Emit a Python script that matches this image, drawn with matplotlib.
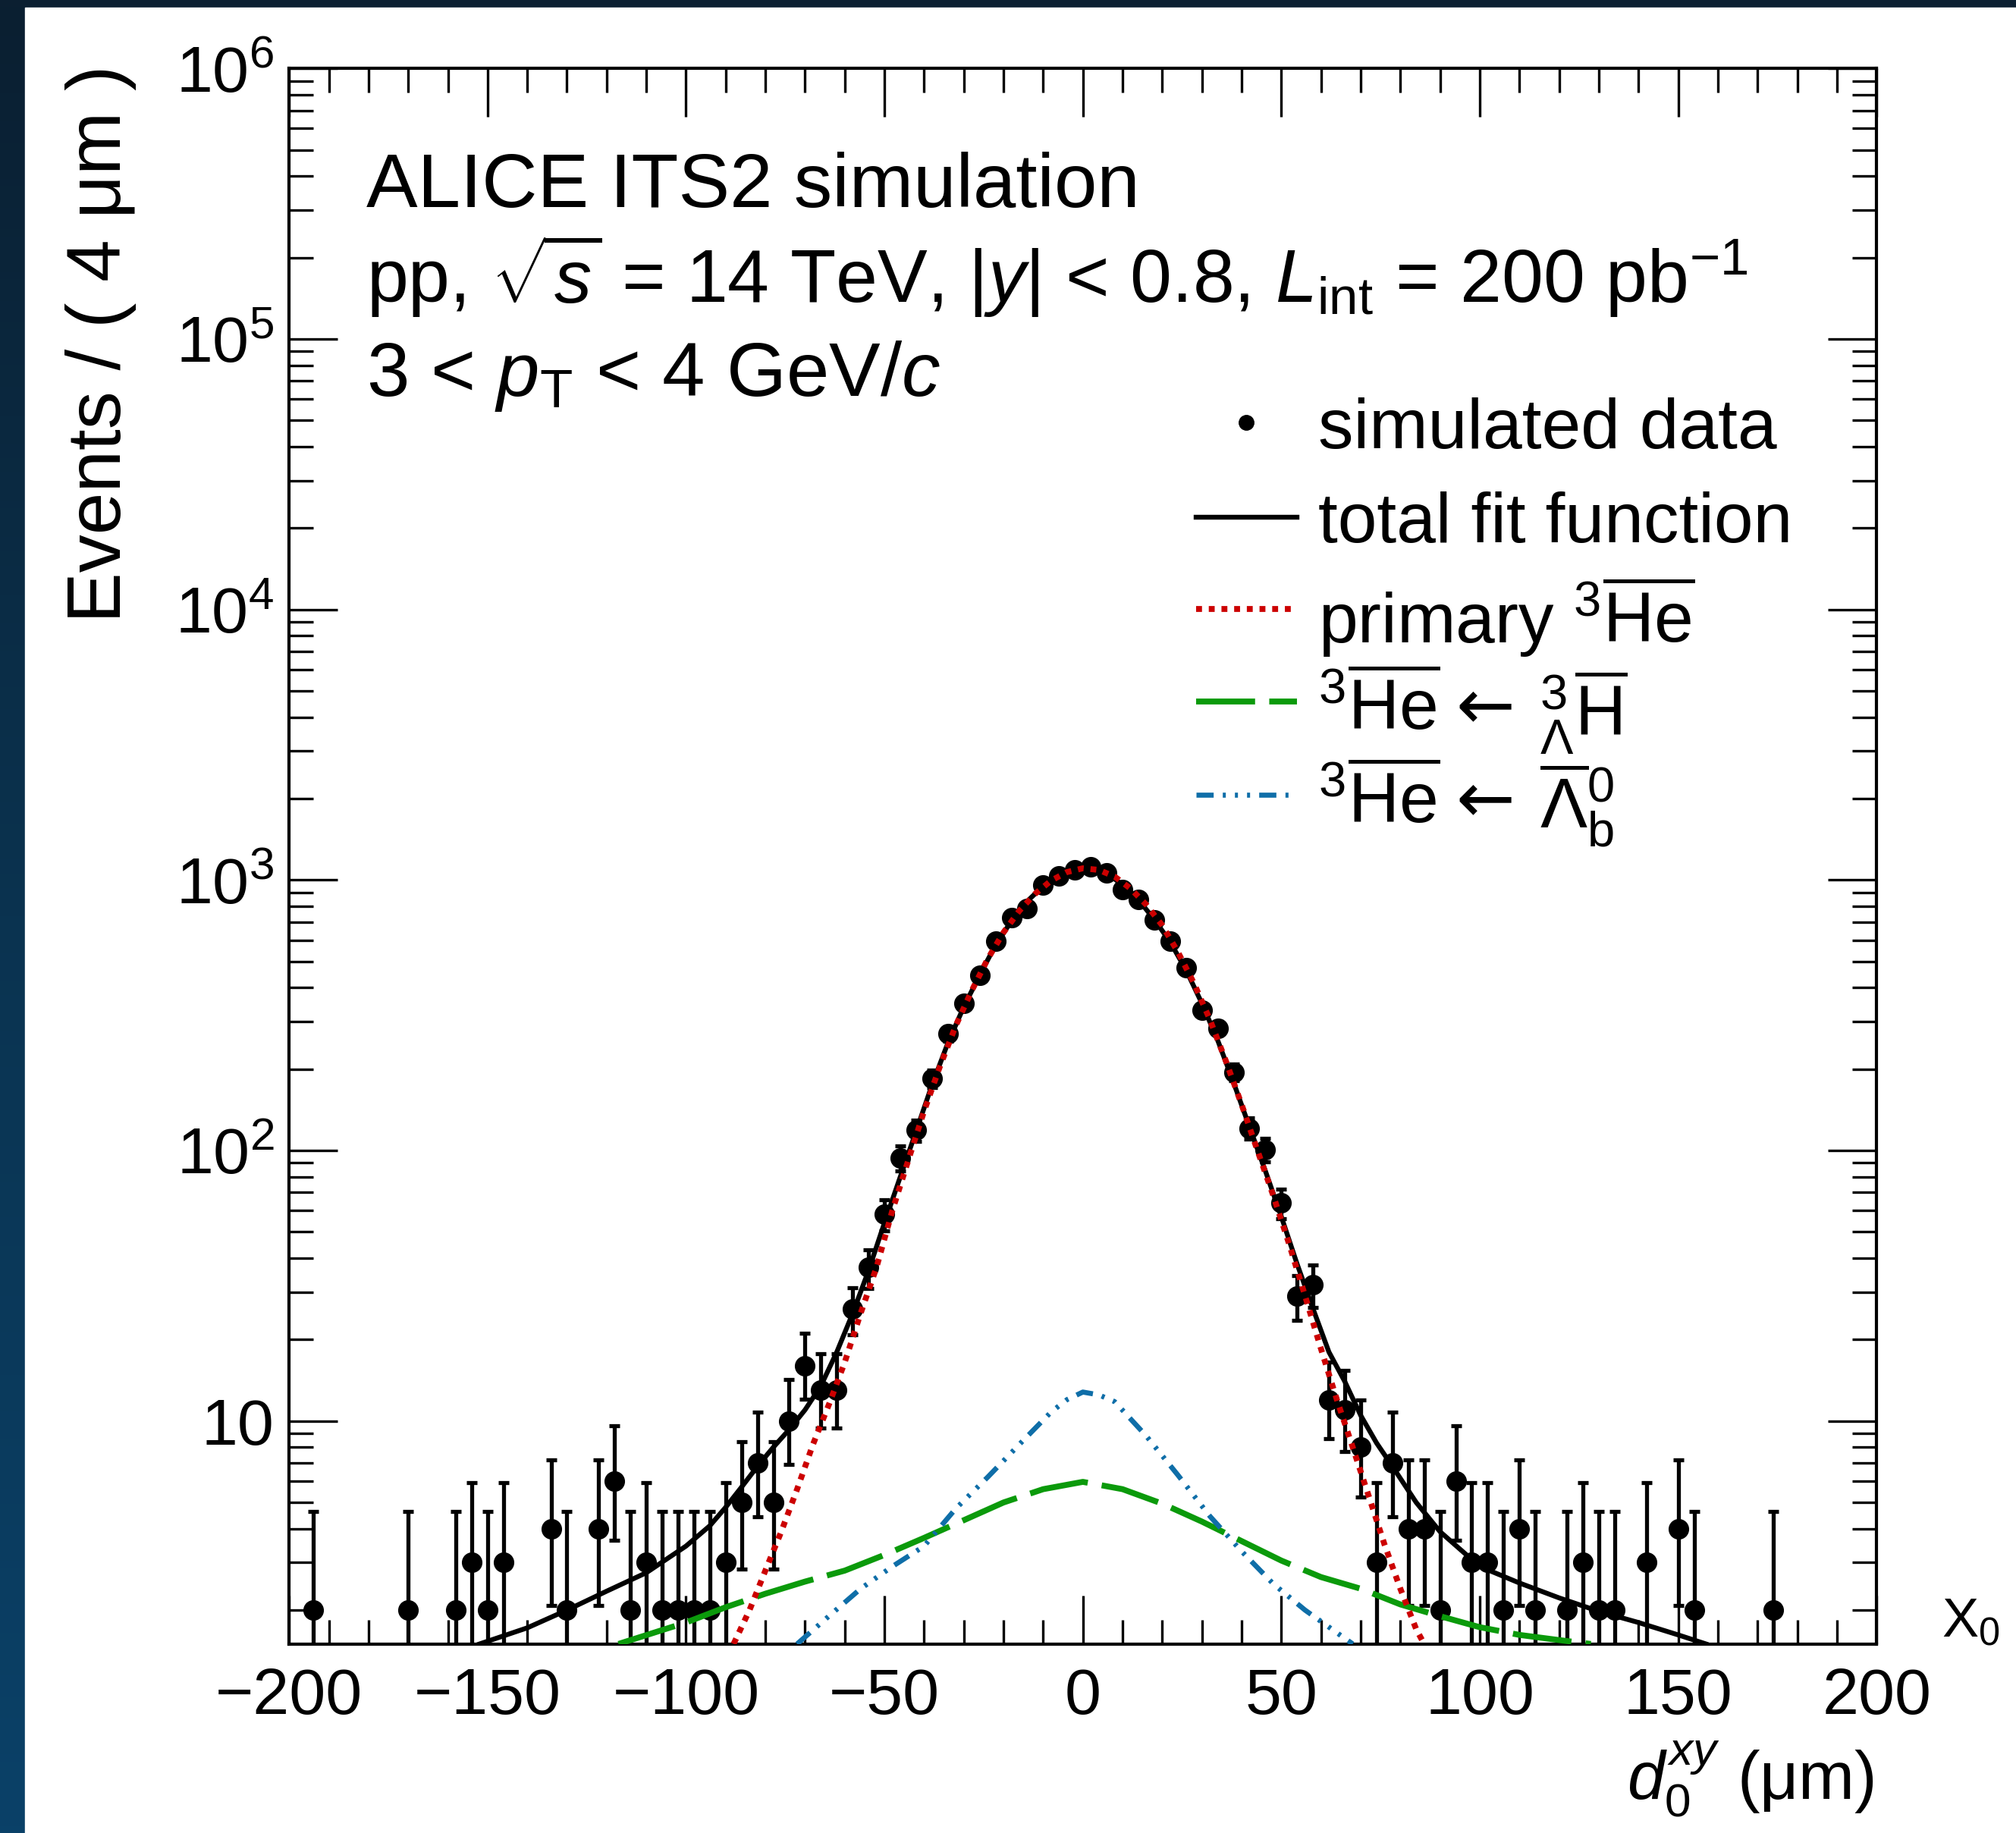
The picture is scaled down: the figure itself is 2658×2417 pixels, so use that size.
import matplotlib
matplotlib.use("Agg")
import numpy as np
import matplotlib.pyplot as plt
from matplotlib.lines import Line2D
from matplotlib.patches import Rectangle
from matplotlib.ticker import MultipleLocator, LogLocator, NullFormatter
from matplotlib.colors import LinearSegmentedColormap

W, H = 2658, 2417

# simulated data: bin centres (um, 4 um bins) and counts (bins with < 2 entries sit below the axis)
bin_x = [-194, -170, -158, -154, -150, -146, -134, -130, -122, -118, -114, -110, -106, -102,
         -98, -94, -90, -86, -82, -78, -74, -70, -66, -62, -58, -54, -50, -46, -42, -38,
         -34, -30, -26, -22, -18, -14, -10, -6, -2, 2, 6, 10, 14, 18, 22, 26, 30, 34, 38,
         42, 46, 50, 54, 58, 62, 66, 70, 74, 78, 82, 86, 90, 94, 98, 102, 106, 110, 114,
         122, 126, 130, 134, 142, 150, 154, 174]
bin_n = [2, 2, 2, 3, 2, 3, 4, 2, 4, 6, 2, 3, 2, 2,
         2, 2, 3, 5, 7, 5, 10, 16, 13, 13, 26, 37, 58, 94, 119, 185,
         270, 351, 445, 593, 728, 782, 957, 1033, 1091, 1116, 1060, 923, 849, 710, 596, 473, 330, 283, 195,
         121, 101, 64, 29, 32, 12, 11, 8, 3, 7, 4, 4, 2, 6, 3, 3, 2, 4, 2,
         2, 3, 2, 2, 3, 4, 2, 2]

# total fit function
tot_x = [-152, -140, -130, -120, -110, -100, -94, -90, -86, -82, -78, -74, -70, -66, -62, -58,
         -54, -50, -46, -42, -38, -34, -30, -26, -22, -18, -14, -10, -6, -2, 0, 2, 6, 10, 14,
         18, 22, 26, 30, 34, 38, 42, 46, 50, 54, 58, 62, 66, 70, 74, 78, 84, 90, 100, 110,
         120, 130, 140, 150, 157]
tot_y = [1.5, 1.72, 2.0, 2.35, 2.75, 3.45, 4.1, 4.8, 5.7, 6.8, 8.0, 9.3, 11.0, 13.5, 18, 25,
         36, 54, 80, 118, 175, 250, 340, 445, 575, 705, 835, 950, 1045, 1100, 1110, 1108, 1060,
         960, 845, 715, 590, 465, 350, 255, 178, 122, 84, 57, 38, 26, 18, 14, 10.5, 8.3, 6.8,
         5.0, 3.9, 2.9, 2.52, 2.22, 1.98, 1.8, 1.62, 1.5]

# primary 3He-bar component
prim_x = [-88, -84, -80, -76, -72, -68, -64, -60, -56, -52, -48, -44, -40, -36, -32, -28, -24,
          -20, -16, -12, -8, -4, 0, 4, 8, 12, 16, 20, 24, 28, 32, 36, 40, 44, 48, 52, 56, 60,
          64, 68, 72, 76, 80, 84, 86]
prim_y = [1.5, 2.0, 2.8, 3.9, 5.6, 8.2, 11.5, 16.5, 25, 37, 60, 92, 140, 205, 290, 390, 510,
          640, 770, 890, 995, 1070, 1105, 1090, 1030, 930, 810, 680, 540, 415, 305, 215, 148,
          100, 68, 45, 29, 18.5, 12, 8.0, 5.3, 3.5, 2.4, 1.7, 1.5]

# 3He-bar from hypertriton
hyp_x = [-117, -100, -90, -80, -70, -60, -50, -40, -30, -20, -10, 0, 10, 20, 30, 40, 50, 60,
         70, 80, 90, 100, 110, 120, 128]
hyp_y = [1.5, 1.8, 2.05, 2.3, 2.55, 2.8, 3.2, 3.7, 4.3, 5.0, 5.6, 5.96, 5.6, 4.95, 4.25, 3.6,
         3.05, 2.65, 2.4, 2.1, 1.9, 1.73, 1.62, 1.55, 1.5]

# 3He-bar from Lambda_b-bar
lb_x = [-72, -64, -56, -48, -40, -32, -24, -16, -8, -4, 0, 4, 8, 16, 24, 32, 40, 48, 56, 64, 68]
lb_y = [1.5, 1.9, 2.4, 2.9, 3.45, 4.75, 6.2, 8.2, 10.8, 12.0, 12.8, 12.5, 11.8, 8.8, 6.3,
        4.45, 3.3, 2.5, 2.0, 1.65, 1.5]

# Garwood 68% intervals for small counts
POIS = {2: (0.708, 4.638), 3: (1.367, 5.918), 4: (2.086, 7.163), 5: (2.840, 8.382),
        6: (3.620, 9.584), 7: (4.419, 10.77), 8: (5.232, 11.95), 10: (6.891, 14.27),
        11: (7.734, 15.42), 12: (8.585, 16.56), 13: (9.441, 17.70), 16: (12.05, 21.08)}


def errs(n):
    if n in POIS:
        lo, hi = POIS[n]
    else:
        lo, hi = n - np.sqrt(n), n + np.sqrt(n)
    return n - lo, hi - n


plt.rcParams['font.family'] = ['Liberation Sans', 'DejaVu Sans']
plt.rcParams['mathtext.fontset'] = 'custom'
plt.rcParams['mathtext.rm'] = 'Liberation Sans'
plt.rcParams['mathtext.it'] = 'Liberation Sans:italic'
plt.rcParams['mathtext.bf'] = 'Liberation Sans:bold'

fig = plt.figure(figsize=(W / 100, H / 100), dpi=100)


def fx(px):
    return px / W


def fy(py):
    return 1 - py / H


# dark slide frame on left / top
bg = fig.add_axes([0, 0, 1, 1], zorder=-10)
cm = LinearSegmentedColormap.from_list("frame", ["#0b1f31", "#0a3350", "#0a4168"])
bg.imshow(np.linspace(0, 1, 256).reshape(-1, 1), cmap=cm, aspect="auto", extent=[0, 1, 0, 1])
bg.add_patch(Rectangle((fx(33), 0), 1, fy(10), color="white", zorder=2))
bg.set_xlim(0, 1); bg.set_ylim(0, 1); bg.axis("off")

# line styles
RED = dict(color="#cc0000", lw=5.6, ls=(0, (1.0, 1.15)))
GREEN = dict(color="#0b9a0b", lw=5.6, ls=(0, (10, 2.4)))
BLUE = dict(color="#0f6ea8", lw=4.8, ls=(0, (3.4, 1.8, 0.6, 1.8, 0.6, 1.8, 0.6, 1.8)))
BLACK = dict(color="black", lw=4.6)

x0, x1, y0, y1 = 381.2, 2474.2, 90.3, 2167.7
ax = fig.add_axes([fx(x0), fy(y1), (x1 - x0) / W, (y1 - y0) / H])
ax.set_facecolor("white")
ax.set_yscale("log")
ax.set_xlim(-200, 200)

lo, hi = zip(*[errs(n) for n in bin_n])
ax.errorbar(bin_x, bin_n, yerr=[lo, hi], fmt="o", color="black", ms=18.5,
            elinewidth=3.8, capsize=5, capthick=3.8, zorder=3)
ax.plot(tot_x, tot_y, zorder=4, **BLACK)
ax.plot(prim_x, prim_y, zorder=5, **RED)
ax.plot(hyp_x, hyp_y, zorder=4, **GREEN)
ax.plot(lb_x, lb_y, zorder=4, **BLUE)

ax.xaxis.set_major_locator(MultipleLocator(50))
ax.xaxis.set_minor_locator(MultipleLocator(10))
ax.yaxis.set_minor_locator(LogLocator(base=10, subs=np.arange(2, 10), numticks=20))
ax.yaxis.set_minor_formatter(NullFormatter())
ax.set_yticks([10, 1e2, 1e3, 1e4, 1e5, 1e6],
              ["10", r"$10^{2}$", r"$10^{3}$", r"$10^{4}$", r"$10^{5}$", r"$10^{6}$"])
ax.set_ylim(1.5, 1e6)
ax.tick_params(which="both", direction="in", top=True, right=True, width=2.4, labelsize=62)
ax.tick_params(which="major", length=46)
ax.tick_params(which="minor", length=23)
ax.tick_params(axis="y", pad=14)
ax.tick_params(axis="x", pad=22)
for s in ax.spines.values():
    s.set_linewidth(3.0)

# axis titles
fig.text(fx(133), fy(86), "Events / ( 4 μm )", rotation=90, ha="center", va="top", fontsize=72)
fig.text(fx(2471), fy(2373), r"$d_{0}^{xy}$ (μm)", ha="right", va="baseline", fontsize=64)
fig.text(fx(2598), fy(2140), r"X$_{0}$", ha="center", va="center", fontsize=52)

# header
fig.text(fx(483), fy(273), "ALICE ITS2 simulation", ha="left", va="baseline", fontsize=73)
fig.text(fx(483), fy(399), r"pp, $\sqrt{s}$ = 14 TeV, |$y$| < 0.8, $L_{\mathrm{int}}$ = 200 pb$^{-1}$",
         ha="left", va="baseline", fontsize=71)
fig.text(fx(483), fy(522), r"3 < $p_{\mathrm{T}}$ < 4 GeV/$c$", ha="left", va="baseline", fontsize=73)

# legend
rows = [557, 682, 803, 925, 1048]
lx0, lx1 = 1577, 1710
fig.add_artist(Line2D([fx(1643)], [fy(rows[0])], marker="o", color="black", ms=14, ls="none"))
for r, st in zip(rows[1:], [BLACK, RED, GREEN, BLUE]):
    fig.add_artist(Line2D([fx(lx0), fx(lx1)], [fy(r)] * 2, **st))

LFS = 67
fig.text(fx(1738), fy(rows[0]), "simulated data", ha="left", va="center_baseline", fontsize=LFS)
fig.text(fx(1738), fy(rows[1]), "total fit function", ha="left", va="center_baseline", fontsize=LFS)
fig.text(fx(1738), fy(rows[2]), r"primary $^{3}\overline{\mathrm{He}}$", ha="left",
         va="center_baseline", fontsize=LFS)
for r, src in zip(rows[3:], [r"$^{3}_{\Lambda}\overline{\mathrm{H}}$",
                             r"$\overline{\Lambda}^{0}_{\mathrm{b}}$"]):
    fig.text(fx(1738), fy(r), r"$^{3}\overline{\mathrm{He}}$", ha="left", va="center_baseline", fontsize=LFS)
    fig.text(fx(1958), fy(r), "←", ha="center", va="center_baseline", fontsize=LFS,
             family="DejaVu Sans")
    fig.text(fx(2030), fy(r), src, ha="left", va="center_baseline", fontsize=LFS)

fig.savefig("out.png", dpi=100)
